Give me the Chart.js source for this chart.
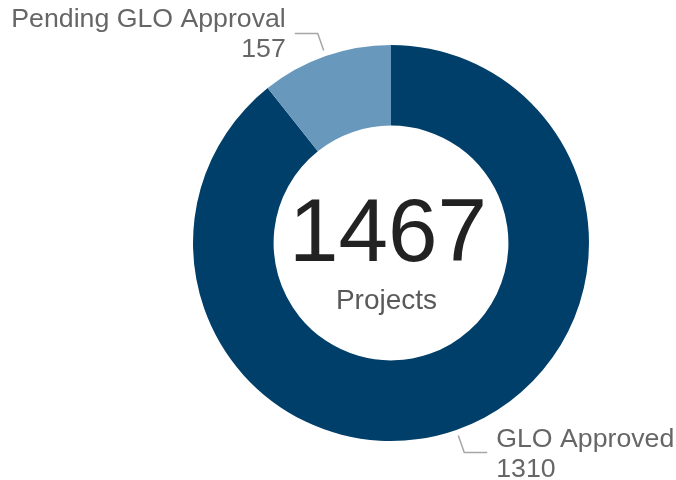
<!DOCTYPE html>
<html>
<head>
<meta charset="utf-8">
<script src="https://cdn.jsdelivr.net/npm/chart.js@4.4.1/dist/chart.umd.min.js"></script>
<style>
html,body{margin:0;padding:0;background:#fff;}
#wrap{position:absolute;left:0;top:0;width:676px;height:480px;}
</style>
</head>
<body>
<div id="wrap"><canvas id="c" width="676" height="480"></canvas></div>
<script>
const categories = ["GLO Approved", "Pending GLO Approval"];
const values = [1310, 157];
const colors = ["#003F69", "#6899BD"];
const totalLabel = "Projects";

const total = values.reduce((a, b) => a + b, 0);
const FONT = "'Liberation Sans', Arial, sans-serif";

const labelPlugin = {
  id: 'labels',
  afterDatasetsDraw(chart) {
    const ctx = chart.ctx;
    const meta = chart.getDatasetMeta(0);
    ctx.save();
    meta.data.forEach((arc, i) => {
      const p = arc.getProps(['x', 'y', 'startAngle', 'endAngle', 'outerRadius'], true);
      const mid = (p.startAngle + p.endAngle) / 2;
      const c = Math.cos(mid), s = Math.sin(mid);
      const x0 = p.x + c * (p.outerRadius + 6), y0 = p.y + s * (p.outerRadius + 6);
      const x1 = p.x + c * (p.outerRadius + 24), y1 = p.y + s * (p.outerRadius + 24);
      const dir = c >= 0 ? 1 : -1;
      const x2 = x1 + dir * 23;
      ctx.strokeStyle = '#A6A6A6';
      ctx.lineWidth = 1.5;
      ctx.beginPath();
      ctx.moveTo(x0, y0);
      ctx.lineTo(x1, y1);
      ctx.lineTo(x2, y1);
      ctx.stroke();
      ctx.fillStyle = '#666666';
      ctx.font = '26.7px ' + FONT;
      ctx.textBaseline = 'alphabetic';
      ctx.textAlign = dir > 0 ? 'left' : 'right';
      const tx = x2 + dir * 9;
      ctx.fillText(categories[i], tx, y1 - 6);
      ctx.fillText(String(values[i]), tx, y1 + 24);
    });
    const a0 = meta.data[0];
    const cx = a0.x - 3, cy = a0.y;
    ctx.textAlign = 'center';
    ctx.fillStyle = '#222222';
    ctx.font = '89px ' + FONT;
    ctx.fillText(String(total), cx, cy + 18);
    ctx.fillStyle = '#595959';
    ctx.font = '28px ' + FONT;
    ctx.fillText(totalLabel, a0.x - 4.5, cy + 66);
    ctx.restore();
  }
};

new Chart(document.getElementById('c'), {
  type: 'doughnut',
  data: {
    labels: categories,
    datasets: [{
      data: values,
      backgroundColor: colors,
      borderWidth: 0,
      hoverOffset: 0
    }]
  },
  options: {
    responsive: false,
    animation: false,
    cutout: '59.3%',
    layout: { padding: { left: 106, right: 0, top: 45, bottom: 39 } },
    plugins: { legend: { display: false }, tooltip: { enabled: false } },
    events: []
  },
  plugins: [labelPlugin]
});
</script>
</body>
</html>
